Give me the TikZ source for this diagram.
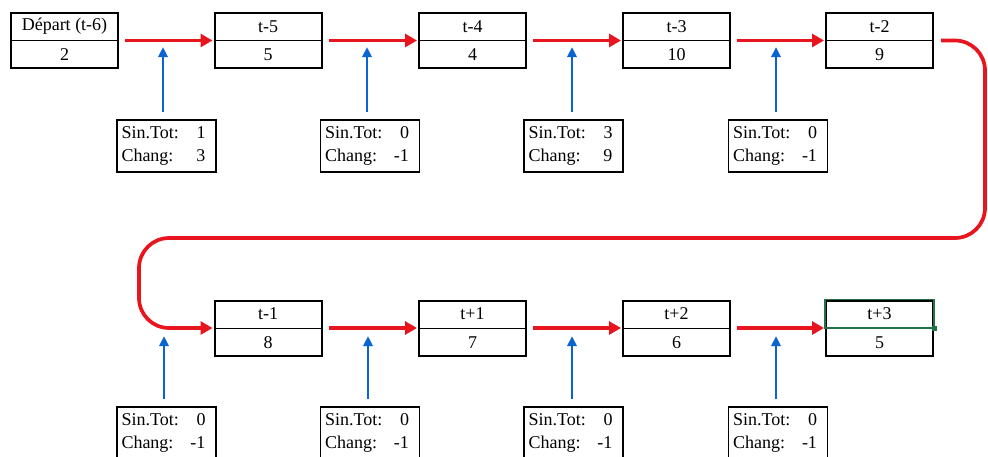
\documentclass[tikz,border=0pt]{standalone}
\usepackage{fontspec}
\setmainfont{Liberation Serif}
\usetikzlibrary{arrows.meta,calc}

\definecolor{flowred}{HTML}{E8141E}
\definecolor{feedblue}{HTML}{0A64D2}
\definecolor{selgreen}{HTML}{217346}

\tikzset{
  stagebox/.style={draw=black, line width=2pt, minimum width=107pt, minimum height=55pt, inner sep=0pt},
  celltext/.style={font=\fontsize{18}{20}\selectfont, inner sep=0pt},
  infobox/.style={draw=black, line width=1.3pt, minimum width=99pt, minimum height=52pt,
    inner sep=0pt, text width=90pt, align=left, font=\fontsize{18}{23}\selectfont},
  flow/.style={draw=flowred, line width=3.7pt, -{Triangle[length=12pt,width=13pt]}},
  feed/.style={draw=feedblue, line width=2.6pt, -{Triangle[length=10pt,width=9pt]}},
}

% one period box: name, x, y, label, value
\newcommand\drawstage[5]{%
  \node[stagebox] (#1) at (#2,#3) {};
  \draw[line width=0.8pt] (#1.west) -- (#1.east);
  \node[celltext] (#1-top) at ($(#1.north)!0.5!(#1.center)$) {#4};
  \node[celltext] (#1-bot) at ($(#1.south)!0.5!(#1.center)$) {#5};
}

% info box with its feeding arrow: name, x, y, sin.tot, chang, arrow x, arrow tip y
\newcommand\drawinfo[7]{%
  \node[infobox] (#1) at (#2,#3) {Sin.Tot:\hfill #4\kern6pt\\Chang:\hfill #5\kern6pt};
  \coordinate (#1-tip) at (#6,#7);
  \draw[feed] ($(#1.north -| #1-tip)+(0,-7)$) -- (#1-tip);
}

\begin{document}
\begin{tikzpicture}[x=1pt,y=-1pt]
\useasboundingbox[fill=white] (0,0) rectangle (988,456);

% top row
\drawstage{s0}{64.5}{40.5}{Départ (t-6)}{2}
\drawstage{s1}{268}{40.5}{t-5}{5}
\drawstage{s2}{472.5}{40.5}{t-4}{4}
\drawstage{s3}{676.5}{40.5}{t-3}{10}
\drawstage{s4}{879.5}{40.5}{t-2}{9}

% bottom row
\drawstage{s5}{268}{328}{t-1}{8}
\drawstage{s6}{472.5}{328}{t+1}{7}
\drawstage{s7}{676.5}{328}{t+2}{6}
\drawstage{s8}{879.5}{328}{t+3}{5}

% selected cell outline
\draw[selgreen, line width=1.4pt] (s8.north west) rectangle (s8.east);
\node[fill=selgreen, minimum size=5pt, inner sep=0pt] (sel) at (s8.east) {};

% flow arrows
\draw[flow] ([xshift=6pt]s0.east) -- ([xshift=-1pt]s1.west);
\draw[flow] ([xshift=6pt]s1.east) -- ([xshift=-1pt]s2.west);
\draw[flow] ([xshift=6pt]s2.east) -- ([xshift=-1pt]s3.west);
\draw[flow] ([xshift=6pt]s3.east) -- ([xshift=-1pt]s4.west);
\draw[flow, rounded corners=30pt] ([xshift=7pt]s4.east) -- (985,40.5) -- (985,238) -- (139,238) -- (139,328) -- ([xshift=-1pt]s5.west);
\draw[flow] ([xshift=6pt]s5.east) -- ([xshift=-1pt]s6.west);
\draw[flow] ([xshift=6pt]s6.east) -- ([xshift=-1pt]s7.west);
\draw[flow] ([xshift=6pt]s7.east) -- ([xshift=-1pt]s8.west);

% info boxes, top row
\drawinfo{i1}{166.5}{146}{1}{3}{163}{47}
\drawinfo{i2}{370}{146}{0}{-1}{367}{47}
\drawinfo{i3}{573.5}{146}{3}{9}{572}{47}
\drawinfo{i4}{778}{146}{0}{-1}{776}{47}

% info boxes, bottom row
\drawinfo{i5}{166.5}{433}{0}{-1}{164}{336}
\drawinfo{i6}{370}{433}{0}{-1}{368}{336}
\drawinfo{i7}{573.5}{433}{0}{-1}{572}{336}
\drawinfo{i8}{778}{433}{0}{-1}{776}{336}
\end{tikzpicture}
\end{document}
